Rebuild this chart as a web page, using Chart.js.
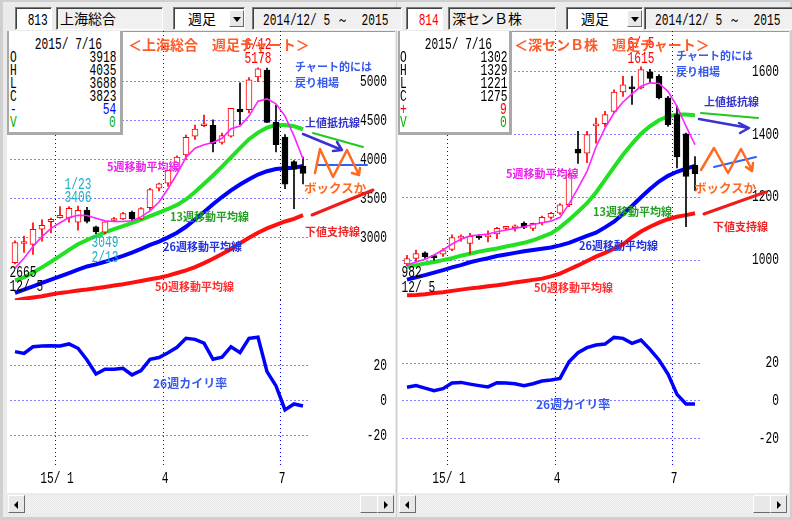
<!DOCTYPE html>
<html lang="ja">
<head>
<meta charset="utf-8">
<title>上海総合・深センB株 週足チャート</title>
<script src="https://cdn.jsdelivr.net/npm/chart.js@4.4.1/dist/chart.umd.min.js"></script>
<style>
  html,body{margin:0;padding:0}
  body{width:792px;height:520px;position:relative;overflow:hidden;background:#cfcfcf;font-family:"Noto Sans CJK JP",sans-serif}
  .a{position:absolute;white-space:nowrap;line-height:1}
  .jp{font-weight:bold}
  .sunk{position:absolute;box-sizing:border-box;height:23px;top:7px;border:1px solid;border-color:#7a7a7a #fff #fff #7a7a7a;box-shadow:inset 1px 1px 0 #404040;overflow:hidden;line-height:21px;white-space:nowrap}
  .mono{font-family:"Liberation Mono",monospace;font-size:16px;display:inline-block;transform:scaleX(.7);white-space:pre}
  canvas{position:absolute;display:block}
  .sb{position:absolute;top:495px;height:18px;background-color:#f3f3f3;background-image:repeating-conic-gradient(#e3e3e3 0 25%,#f8f8f8 0 50%);background-size:2px 2px}
  .btn{position:absolute;top:0;height:18px;box-sizing:border-box;background:#e8e8e8;border:1px solid;border-color:#fff #6a6a6a #6a6a6a #fff}
  .tri{position:absolute;top:5px;width:0;height:0;border-top:4px solid transparent;border-bottom:4px solid transparent}
</style>
</head>
<body>
<div class="a" style="left:3px;top:2px;width:393px;height:515px;background:#ebebeb"></div>
<div class="a" style="left:397px;top:2px;width:393px;height:515px;background:#ebebeb"></div>
<div class="a" style="left:7px;top:31px;width:388px;height:462px;background:#fff;box-shadow:inset 0 1px 0 #9a9a9a"></div>
<div class="a" style="left:398px;top:31px;width:391px;height:462px;background:#fff;box-shadow:inset 0 1px 0 #9a9a9a"></div>

<canvas id="shPrice" width="388" height="269" style="left:7px;top:31px"></canvas>
<canvas id="shKairi" width="388" height="190" style="left:7px;top:300px"></canvas>
<canvas id="szPrice" width="391" height="269" style="left:398px;top:31px"></canvas>
<canvas id="szKairi" width="391" height="190" style="left:398px;top:300px"></canvas>

<!-- toolbar, left -->
<div class="sunk" style="left:15px;width:37px;background:#fff;text-align:right;padding-right:3px"><span class="mono" style="transform-origin:right">813</span></div>
<div class="sunk" style="left:56px;width:107px;background:#f0f0f0;padding-left:3px;font-size:14px">上海総合</div>
<div class="sunk" style="left:173px;width:72px;background:#fff;padding-left:14px;font-size:14px">週足</div>
<div class="sunk" style="left:252px;width:150px;background:#f0f0f0;padding-left:10px"><span class="mono" style="transform-origin:left">2014/12/ 5 ～  2015</span></div>
<!-- toolbar, right -->
<div class="sunk" style="left:406px;width:37px;background:#fff;text-align:right;padding-right:3px;color:#f00"><span class="mono" style="transform-origin:right">814</span></div>
<div class="sunk" style="left:448px;width:108px;background:#f0f0f0;padding-left:3px;font-size:14px">深センＢ株</div>
<div class="sunk" style="left:566px;width:77px;background:#fff;padding-left:14px;font-size:14px">週足</div>
<div class="sunk" style="left:644px;width:150px;background:#f0f0f0;padding-left:10px"><span class="mono" style="transform-origin:left">2014/12/ 5 ～  2015</span></div>

<svg class="a" width="792" height="520" style="left:0;top:0" fill="none" stroke-linecap="round" stroke-linejoin="round">
  <!-- left hand-drawn marks -->
  <path d="M313,133 L363,147" stroke="#22c822" stroke-width="2"/>
  <path d="M303,134 L342,150 M333,151 L342,150 L337,142" stroke="#3a32d6" stroke-width="2.5"/>
  <path d="M317,165 L367,165" stroke="#3060ff" stroke-width="2"/>
  <path d="M315,173 L320,149 L333,177 L347,150 L359,175 M352,173 L359,175 L360,168" stroke="#ff6a20" stroke-width="2.5"/>
  <path d="M312,215 L373,190" stroke="#ee1c1c" stroke-width="3"/>
  <!-- right hand-drawn marks -->
  <path d="M701,113 L758,118" stroke="#22c822" stroke-width="2"/>
  <path d="M699,119 L749,128 M739,123 L749,128 L740,133" stroke="#3a32d6" stroke-width="2.5"/>
  <path d="M714,167 L756,157" stroke="#3060ff" stroke-width="2"/>
  <path d="M701,170 L714,148 L728,173 L741,149 L752,170 M746,167 L752,171 L753,163" stroke="#ff6a20" stroke-width="2.5"/>
  <path d="M704,214 L766,192" stroke="#ee1c1c" stroke-width="3"/>
</svg>

<!-- dropdown buttons -->
<div class="btn" style="left:229px;top:10px;width:15px;height:17px"><div class="tri" style="left:3px;top:6px;border:4px solid transparent;border-top:5px solid #000;border-bottom:0"></div></div>
<div class="btn" style="left:627px;top:10px;width:15px;height:17px"><div class="tri" style="left:3px;top:6px;border:4px solid transparent;border-top:5px solid #000;border-bottom:0"></div></div>

<!-- scroll bars -->
<div class="sb" style="left:8px;width:386px">
  <div class="btn" style="left:0;width:17px"><div class="tri" style="left:5px;border-right:4px solid #000"></div></div>
  <div class="btn" style="left:352px;width:18px"></div>
  <div class="btn" style="left:369px;width:17px"><div class="tri" style="left:6px;border-left:4px solid #000"></div></div>
</div>
<div class="sb" style="left:399px;width:388px">
  <div class="btn" style="left:0;width:17px"><div class="tri" style="left:5px;border-right:4px solid #000"></div></div>
  <div class="btn" style="left:354px;width:18px"></div>
  <div class="btn" style="left:371px;width:17px"><div class="tri" style="left:6px;border-left:4px solid #000"></div></div>
</div>

<script>
// ---- shared: weekly bars 2014/12/5 - 2015/7/16 ----
const weeks = ['2014/12/5','2014/12/12','2014/12/19','2014/12/26','2015/1/2','2015/1/9','2015/1/16','2015/1/23','2015/1/30','2015/2/6','2015/2/13','2015/2/17','2015/2/27','2015/3/6','2015/3/13','2015/3/20','2015/3/27','2015/4/3','2015/4/10','2015/4/17','2015/4/24','2015/4/30','2015/5/8','2015/5/15','2015/5/22','2015/5/29','2015/6/5','2015/6/12','2015/6/19','2015/6/26','2015/7/3','2015/7/10','2015/7/16'];
const monthIdx = [5, 17, 30];
const monthText = ['15/ 1', '4', '7'];

// ---- 上海総合 ----
const shOpen  = [2680,2925,2915,3110,3205,3258,3250,3200,3355,3140,3070,3220,3240,3325,3240,3385,3635,3700,3880,4060,4300,4435,4440,4220,4300,4650,4640,5060,5150,4480,4290,3975,3918];
const shHigh  = [2960,3020,3190,3230,3250,3400,3400,3406,3390,3150,3205,3260,3325,3340,3385,3632,3700,3864,4050,4317,4444,4572,4510,4340,4658,4986,5052,5178,5176,4700,4322,3990,4035];
const shLow   = [2665,2810,2785,2955,3060,3250,3200,3095,3190,3050,3049,3210,3230,3220,3230,3360,3600,3660,3865,4006,4260,4422,4100,4198,4290,4450,4600,5000,4476,4100,3629,3373,3688];
const shClose = [2937,2938,3108,3157,3235,3285,3376,3351,3210,3075,3203,3246,3310,3241,3372,3617,3691,3863,4034,4287,4393,4442,4205,4308,4657,4611,5023,5166,4478,4192,3686,3877,3823];
const shMa5   = [2610,2737,2886,3013,3119,3191,3258,3288,3284,3250,3216,3208,3208,3216,3267,3343,3458,3627,3818,4030,4148,4191,4220,4275,4398,4432,4559,4750,4780,4716,4559,4305,4008];
const shMa13  = [2453,2492,2555,2619,2691,2767,2843,2915,2970,3021,3068,3110,3148,3190,3232,3277,3322,3368,3420,3490,3585,3691,3797,3911,4030,4148,4263,4347,4411,4445,4445,4428,4390];
const shMa26  = [2292,2335,2377,2420,2462,2504,2547,2589,2631,2657,2691,2729,2767,2809,2856,2907,2949,3004,3064,3140,3233,3330,3428,3521,3606,3682,3750,3809,3852,3881,3890,3898,3919];
const shMa50  = [2195,2216,2233,2250,2271,2292,2305,2322,2335,2352,2369,2386,2403,2424,2445,2466,2487,2513,2547,2581,2623,2674,2729,2792,2856,2928,3000,3064,3119,3165,3208,3242,3288];
const shKairi = [28.2,27.2,31.0,31.4,31.6,31.4,32.6,30.1,23.4,15.4,18.1,18.1,18.7,14.9,17.3,23.8,24.8,27.6,30.7,35.8,35.2,33.0,23.8,25.0,31.0,27.6,35.8,36.4,16.8,8.6,-5.1,-1.7,-2.9];
const shPriceTicks = [3000, 3500, 4000, 4500, 5000];
const shVolume = 0;

// ---- 深センB株 ----
const szOpen  = [988,1005,1023,1010,1019,1034,1070,1053,1074,1074,1083,1101,1103,1117,1101,1119,1136,1149,1176,1353,1340,1427,1434,1473,1535,1548,1548,1599,1585,1516,1463,1402,1302];
const szHigh  = [1015,1032,1026,1016,1037,1080,1080,1085,1080,1093,1104,1106,1112,1122,1118,1140,1152,1180,1275,1410,1410,1452,1473,1542,1585,1585,1615,1607,1590,1521,1490,1404,1329];
const szLow   = [982,996,1005,1000,1012,1030,1060,1020,1066,1058,1068,1096,1092,1100,1094,1112,1130,1145,1170,1308,1310,1372,1425,1470,1521,1495,1545,1564,1513,1425,1293,1106,1221];
const szClose = [1005,1021,1011,1008,1030,1072,1074,1076,1071,1078,1101,1104,1106,1104,1117,1136,1149,1176,1271,1340,1399,1430,1463,1535,1558,1545,1606,1578,1516,1431,1328,1266,1275];
const szMa5   = [984,994,1003,1016,1032,1051,1066,1077,1080,1083,1090,1096,1101,1106,1113,1119,1124,1136,1179,1229,1282,1360,1420,1468,1503,1529,1553,1564,1562,1537,1489,1426,1367];
const szMa13  = [979,984,989,994,1000,1006,1014,1020,1027,1032,1037,1043,1049,1055,1063,1074,1085,1104,1128,1154,1181,1215,1255,1296,1335,1370,1402,1426,1445,1457,1463,1463,1461];
const szMa26  = [938,945,952,960,968,977,984,993,1000,1006,1013,1018,1023,1028,1032,1036,1040,1047,1055,1066,1077,1087,1104,1122,1147,1172,1200,1226,1250,1268,1281,1291,1300];
const szMa50  = [888,889,891,895,898,902,906,910,913,917,920,924,929,933,937,941,948,957,970,983,997,1011,1023,1036,1050,1072,1091,1106,1119,1130,1138,1143,1149];
const szKairi = [7.2,8.1,6.8,5.4,6.5,9.5,9.8,8.9,8.1,7.4,9.6,9.5,9.1,8.1,9.1,10.5,11.1,11.9,20.7,25.4,28.1,29.5,30.0,33.5,33.0,30.4,32.1,27.2,21.6,14.2,3.5,-1.6,-1.6];
const szPriceTicks = [1000, 1200, 1400, 1600];
const szVolume = 0;

const kairiTicks = [-20, 0, 20];

const GRID = '#0000ff';
const UP = '#ff0000';
const CYAN = '#1fb0c4';

function fmtDate(s) {
  const p = s.split('/');
  const d = +p[2];
  return (+p[1]) + '/' + (d < 10 ? ' ' + d : d);
}

// bitmap-ish narrow digits like the original terminal font
function narrow(ctx, s, x, y, color, align) {
  ctx.save();
  ctx.translate(x, y);
  ctx.scale(0.7, 1);
  ctx.font = '16px "Liberation Mono", monospace';
  ctx.fillStyle = color;
  ctx.textAlign = align || 'center';
  ctx.textBaseline = 'middle';
  ctx.fillText(s, 0, 0);
  ctx.restore();
}

function baseOptions(min, max, ticks, padLeft, axisW, padBottom) {
  return {
    responsive: false, animation: false, devicePixelRatio: 1,
    layout: { padding: { left: padLeft, right: 0, top: 0, bottom: padBottom } },
    plugins: { legend: { display: false }, tooltip: { enabled: false } },
    scales: {
      x: {
        type: 'category', offset: true,
        ticks: { display: false },
        grid: { offset: true, drawTicks: false, lineWidth: 1, color: c => monthIdx.includes(c.index) ? GRID : 'rgba(0,0,0,0)' },
        border: { display: false, dash: [1, 3] },
        afterFit(a) { a.height = 0; }
      },
      y: {
        position: 'right', min: min, max: max,
        ticks: { display: false },
        afterBuildTicks(a) { a.ticks = ticks.map(v => ({ value: v })); },
        grid: { drawTicks: false, lineWidth: 1, color: GRID },
        border: { display: false, dash: [1, 3] },
        afterFit(a) { a.width = axisW; }
      }
    }
  };
}

function labelPlugin(cfg) {
  return {
    id: 'labels',
    afterDraw(chart) {
      const ctx = chart.ctx, xs = chart.scales.x, ys = chart.scales.y, area = chart.chartArea;
      ys.ticks.forEach(t => narrow(ctx, String(t.value), chart.width - cfg.inset, ys.getPixelForValue(t.value), '#000', 'right'));
      (cfg.marks || []).forEach(m => {
        const v = m.series[m.i];
        const s = m.date ? fmtDate(weeks[m.i]) : String(v);
        const x = m.left ? area.left - 1 : xs.getPixelForValue(m.i);
        narrow(ctx, s, x, ys.getPixelForValue(v) + m.dy, m.color, m.left ? 'left' : 'center');
      });
      if (cfg.months) {
        monthIdx.forEach((idx, k) => narrow(ctx, monthText[k], xs.getPixelForValue(idx) - 3, area.bottom + 11, '#000', 'center'));
      }
    }
  };
}

function priceChart(id, o, h, l, c, m5, m13, m26, m50, cfg) {
  const up = c.map((v, i) => v >= o[i]);
  return new Chart(document.getElementById(id), {
    data: {
      labels: weeks,
      datasets: [
        { type: 'line', data: m5, borderColor: '#ff22ff', borderWidth: 1.6, pointRadius: 0, order: 0 },
        { type: 'bar', data: o.map((v, i) => [v, c[i]]), grouped: false, barThickness: 6, minBarLength: 2,
          backgroundColor: up.map(u => u ? '#fff' : '#000'), borderColor: up.map(u => u ? UP : '#000'),
          borderWidth: 1, borderSkipped: false, order: 1 },
        { type: 'bar', data: l.map((v, i) => [v, h[i]]), grouped: false, barThickness: 1,
          backgroundColor: up.map(u => u ? UP : '#000'), order: 2 },
        { type: 'line', data: m13, borderColor: '#22e022', borderWidth: 4, pointRadius: 0, order: 3 },
        { type: 'line', data: m26, borderColor: '#0000ff', borderWidth: 4, pointRadius: 0, order: 4 },
        { type: 'line', data: m50, borderColor: '#ff1010', borderWidth: 4, pointRadius: 0, order: 5 }
      ]
    },
    options: baseOptions(cfg.min, cfg.max, cfg.ticks, cfg.padLeft, cfg.axisW, 0),
    plugins: [labelPlugin(cfg)]
  });
}

function kairiChart(id, k, cfg) {
  return new Chart(document.getElementById(id), {
    type: 'line',
    data: { labels: weeks, datasets: [{ data: k, borderColor: '#0000ff', borderWidth: 3.5, pointRadius: 0 }] },
    options: baseOptions(cfg.min, cfg.max, kairiTicks, cfg.padLeft, cfg.axisW, 22),
    plugins: [labelPlugin({ inset: cfg.inset, months: true })]
  });
}

priceChart('shPrice', shOpen, shHigh, shLow, shClose, shMa5, shMa13, shMa26, shMa50, {
  min: 2201, max: 5650, ticks: shPriceTicks, padLeft: 3.5, axisW: 87.5, inset: 8,
  marks: [
    { series: shHigh, i: 27, dy: -9, color: UP },
    { series: shHigh, i: 27, dy: -23, color: UP, date: true },
    { series: shHigh, i: 7, dy: -8, color: CYAN },
    { series: shHigh, i: 7, dy: -21, color: CYAN, date: true },
    { series: shLow, i: 10, dy: 9, color: CYAN },
    { series: shLow, i: 10, dy: 24, color: CYAN, date: true },
    { series: shLow, i: 0, dy: 9, color: '#000', left: true },
    { series: shLow, i: 0, dy: 23, color: '#000', left: true, date: true }
  ]
});
kairiChart('shKairi', shKairi, { min: -38.3, max: 57.7, padLeft: 3.5, axisW: 87.5, inset: 8 });

priceChart('szPrice', szOpen, szHigh, szLow, szClose, szMa5, szMa13, szMa26, szMa50, {
  min: 873, max: 1729, ticks: szPriceTicks, padLeft: 4.5, axisW: 89.5, inset: 10,
  marks: [
    { series: szHigh, i: 26, dy: -8.5, color: UP },
    { series: szHigh, i: 26, dy: -23, color: UP, date: true },
    { series: szLow, i: 0, dy: 7, color: '#000', left: true },
    { series: szLow, i: 0, dy: 22, color: '#000', left: true, date: true }
  ]
});
kairiChart('szKairi', szKairi, { min: -35.3, max: 53.2, padLeft: 4.5, axisW: 89.5, inset: 10 });

// ---- info boxes (last bar) ----
function infoBox(left, width, o, h, l, c, vol, letterX, valueRight) {
  const box = document.createElement('div');
  box.className = 'a';
  box.style.cssText = `left:${left}px;top:31px;width:${width}px;height:101px;background:#fff;border-left:2px solid #a9a9a9;border-right:3px solid #a9a9a9;border-bottom:3px solid #a9a9a9;box-sizing:content-box`;
  document.body.appendChild(box);
  const n = c.length - 1;
  const diff = c[n] - c[n - 1];
  const rows = [
    ['O', o[n], '#000'], ['H', h[n], '#000'], ['L', l[n], '#000'], ['C', c[n], '#000'],
    [diff < 0 ? '-' : '+', Math.abs(diff), diff < 0 ? '#0000ff' : '#ff0000'],
    ['V', vol, '#00b000']
  ];
  const put = (s, x, y, color, origin, alignRight) => {
    const d = document.createElement('div');
    d.className = 'a';
    d.style.cssText = `top:${y - 8}px;height:16px;line-height:16px;color:${color};` +
      (alignRight ? `right:${792 - x}px;text-align:right` : `left:${x}px`);
    d.innerHTML = `<span class="mono" style="transform-origin:${origin}">${s}</span>`;
    document.body.appendChild(d);
  };
  const parts = weeks[n].split('/');
  const dateStr = parts[0] + '/' + (parts[1].length < 2 ? ' ' + parts[1] : parts[1]) + '/' + parts[2];
  put(dateStr, left + width / 2 + 40, 42, '#000', 'right', true);
  rows.forEach((r, k) => {
    const y = 55 + k * 13;
    put(r[0], letterX, y, r[2], 'left', false);
    put(String(r[1]), valueRight, y, r[2], 'right', true);
  });
}
infoBox(7, 111, shOpen, shHigh, shLow, shClose, shVolume, 10, 116);
infoBox(398, 109, szOpen, szHigh, szLow, szClose, szVolume, 400, 507);

// ---- text annotations ----
const notes = [
  ['＜上海総合　週足チャート＞', 128, 37, 14, '#ff5a28'],
  ['チャート的には', 295, 61, 11, '#3558ee'],
  ['戻り相場', 295, 77, 11, '#3558ee'],
  ['上値抵抗線', 305, 117, 11, '#3434cc'],
  ['ボックスか', 304, 182, 12.5, '#ff6a20'],
  ['下値支持線', 305, 226, 11, '#ee2828'],
  ['5週移動平均線', 107, 161, 11, '#ee22ee'],
  ['13週移動平均線', 170, 211, 11, '#22a022'],
  ['26週移動平均線', 163, 241, 11, '#2233dd'],
  ['50週移動平均線', 155, 281, 11, '#ff3030'],
  ['26週カイリ率', 153, 377, 12, '#3558ee'],
  ['＜深センＢ株　週足チャート＞', 514, 37, 14, '#ff5a28'],
  ['チャート的には', 676, 50, 11, '#3558ee'],
  ['戻り相場', 676, 66, 11, '#3558ee'],
  ['上値抵抗線', 704, 96, 11, '#3434cc'],
  ['ボックスか', 694, 182, 12.5, '#ff6a20'],
  ['下値支持線', 713, 221, 11, '#ee2828'],
  ['5週移動平均線', 506, 168, 11, '#ee22ee'],
  ['13週移動平均線', 593, 206, 11, '#22a022'],
  ['26週移動平均線', 579, 240, 11, '#2233dd'],
  ['50週移動平均線', 534, 282, 11, '#ff3030'],
  ['26週カイリ率', 536, 398, 12, '#3558ee']
];
notes.forEach(n => {
  const d = document.createElement('div');
  d.className = 'a jp';
  d.style.cssText = `left:${n[1]}px;top:${n[2]}px;font-size:${n[3]}px;color:${n[4]}`;
  d.textContent = n[0];
  document.body.appendChild(d);
});
</script>
</body>
</html>
